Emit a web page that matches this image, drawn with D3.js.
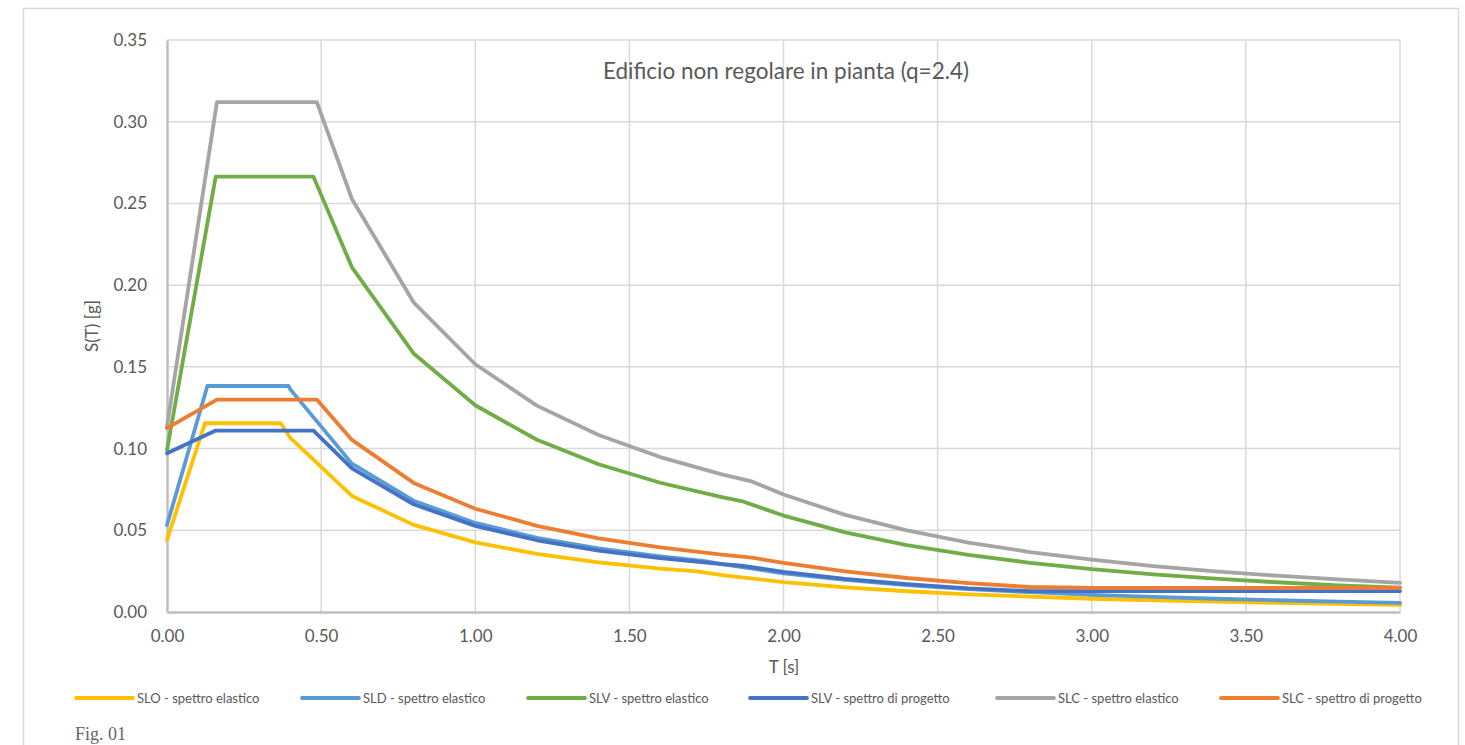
<!DOCTYPE html>
<html><head><meta charset="utf-8">
<script src="https://cdn.jsdelivr.net/npm/d3@7"></script>
<style>body{margin:0;background:#fff;} svg{display:block}</style>
</head><body>
<svg id="c" width="1465" height="745"></svg>
<script>
// ---- data ----
const seriesNames = ["SLO - spettro elastico","SLD - spettro elastico","SLV - spettro elastico","SLV - spettro di progetto","SLC - spettro elastico","SLC - spettro di progetto"];
const seriesColors = ["#FFC000","#5B9BD5","#70AD47","#4472C4","#A5A5A5","#ED7D31"];
const xTickValues = [0,0.5,1,1.5,2,2.5,3,3.5,4];
const yTickValues = [0,0.05,0.10,0.15,0.20,0.25,0.30,0.35];

const sloT = [0,0.123,0.369,0.4,0.6,0.8,1.0,1.2,1.4,1.6,1.72,1.8,2.0,2.2,2.4,2.6,2.8,3.0,3.2,3.4,3.6,3.8,4.0];
const sloS = [0.0441,0.1155,0.1155,0.1066,0.0710,0.0533,0.0426,0.0355,0.0304,0.0266,0.0248,0.0226,0.0183,0.0151,0.0127,0.0108,0.0094,0.0081,0.0072,0.0063,0.0056,0.0050,0.0043];
const sldT = [0,0.131,0.394,0.4,0.6,0.8,1.0,1.2,1.4,1.6,1.74,1.8,2.0,2.2,2.4,2.6,2.8,3.0,3.2,3.4,3.6,3.8,4.0];
const sldS = [0.0532,0.1383,0.1383,0.1362,0.0908,0.0681,0.0545,0.0454,0.0389,0.0341,0.0313,0.0293,0.0237,0.0196,0.0165,0.0140,0.0121,0.0105,0.0092,0.0081,0.0072,0.0064,0.0056];
const slvT = [0,0.158,0.475,0.6,0.8,1.0,1.2,1.4,1.6,1.8,1.864,2.0,2.2,2.4,2.6,2.8,3.0,3.2,3.4,3.6,3.8,4.0];
const slvS = [0.0991,0.2664,0.2664,0.2109,0.1582,0.1265,0.1054,0.0904,0.0791,0.0703,0.0679,0.0590,0.0487,0.0409,0.0349,0.0301,0.0262,0.0230,0.0204,0.0182,0.0163,0.0149];
const slvPS = [0.0971,0.1110,0.1110,0.0879,0.0659,0.0527,0.0439,0.0376,0.0329,0.0293,0.0283,0.0246,0.0203,0.0171,0.0145,0.0128,0.0128,0.0128,0.0128,0.0128,0.0128,0.0128];
const slcT = [0,0.162,0.486,0.6,0.8,1.0,1.2,1.4,1.6,1.8,1.897,2.0,2.2,2.4,2.6,2.8,3.0,3.2,3.4,3.6,3.8,4.0];
const slcS = [0.1135,0.3120,0.3120,0.2527,0.1895,0.1516,0.1263,0.1083,0.0948,0.0842,0.0799,0.0719,0.0594,0.0499,0.0425,0.0367,0.0320,0.0281,0.0249,0.0222,0.0199,0.0178];
const slcPS = [0.1125,0.1300,0.1300,0.1053,0.0790,0.0632,0.0527,0.0451,0.0395,0.0351,0.0333,0.0300,0.0248,0.0208,0.0177,0.0153,0.0148,0.0148,0.0148,0.0148,0.0148,0.0148];

const seriesData = [
  [sloT, sloS], [sldT, sldS], [slvT, slvS], [slvT, slvPS], [slcT, slcS], [slcT, slcPS]
];

// ---- drawing ----
const svg = d3.select("#c");
const FONT = "Lato, 'Open Sans', sans-serif";
const TXT = "#595959";

// outer frame
svg.append("rect").attr("x",23.5).attr("y",8.5).attr("width",1435).attr("height",760)
  .attr("fill","#fff").attr("stroke","#d9d9d9").attr("stroke-width",1.5);

const x = d3.scaleLinear().domain([0,4]).range([167,1400]);
const y = d3.scaleLinear().domain([0,0.35]).range([612,40]);

// gridlines
const g = svg.append("g");
g.selectAll("line.hg").data(yTickValues.filter(v=>v>0)).join("line")
  .attr("x1",x(0)).attr("x2",x(4)).attr("y1",d=>y(d)).attr("y2",d=>y(d))
  .attr("stroke","#d9d9d9").attr("stroke-width",1.5);
g.selectAll("line.vg").data(xTickValues.filter(v=>v>0)).join("line")
  .attr("x1",d=>x(d)).attr("x2",d=>x(d)).attr("y1",y(0)).attr("y2",y(0.35))
  .attr("stroke","#d9d9d9").attr("stroke-width",1.5);

// axes
const xAxis = d3.axisBottom(x).tickValues(xTickValues).tickFormat(d3.format(".2f")).tickSize(0).tickPadding(18);
const yAxis = d3.axisLeft(y).tickValues(yTickValues).tickFormat(d3.format(".2f")).tickSize(0).tickPadding(20);
const gx = svg.append("g").attr("transform",`translate(0,${y(0)})`).call(xAxis);
const gy = svg.append("g").attr("transform",`translate(${x(0)},0)`).call(yAxis);
[gx,gy].forEach(a=>{
  a.select(".domain").attr("stroke","#bfbfbf").attr("stroke-width",2.5);
  a.selectAll("text").attr("fill",TXT).style("font-family",FONT).style("font-size","17px");
});

// lines
const line = d3.line().x(d=>x(d[0])).y(d=>y(d[1]));
seriesData.forEach((sd,i)=>{
  const pts = sd[0].map((t,k)=>[t, sd[1][k]]);
  svg.append("path").datum(pts).attr("d",line).attr("fill","none")
    .attr("stroke",seriesColors[i]).attr("stroke-width",3.8)
    .attr("stroke-linejoin","round").attr("stroke-linecap","round");
});

// title
svg.append("text").attr("x",786).attr("y",79).attr("text-anchor","middle")
  .attr("fill",TXT).style("font-family",FONT).style("font-size","22.5px")
  .text("Edificio non regolare in pianta (q=2.4)");

// axis titles
svg.append("text").attr("x",784).attr("y",673).attr("text-anchor","middle")
  .attr("fill",TXT).style("font-family",FONT).style("font-size","17px").text("T [s]");
svg.append("text").attr("transform","translate(98,326) rotate(-90)").attr("text-anchor","middle")
  .attr("fill",TXT).style("font-family",FONT).style("font-size","17px").text("S(T) [g]");

// legend
const legendX = [76,302,528,750,997,1221];
const lg = svg.append("g");
seriesNames.forEach((n,i)=>{
  lg.append("line").attr("x1",legendX[i]).attr("x2",legendX[i]+57).attr("y1",698).attr("y2",698)
    .attr("stroke",seriesColors[i]).attr("stroke-width",3.8).attr("stroke-linecap","round");
  lg.append("text").attr("x",legendX[i]+61).attr("y",702.5).attr("fill",TXT)
    .style("font-family",FONT).style("font-size","13px").text(n);
});

// figure caption
svg.append("text").attr("x",75).attr("y",740).attr("fill","#666")
  .style("font-family","'Liberation Serif', 'DejaVu Serif', serif").style("font-size","18px").text("Fig. 01");
</script>
</body></html>
